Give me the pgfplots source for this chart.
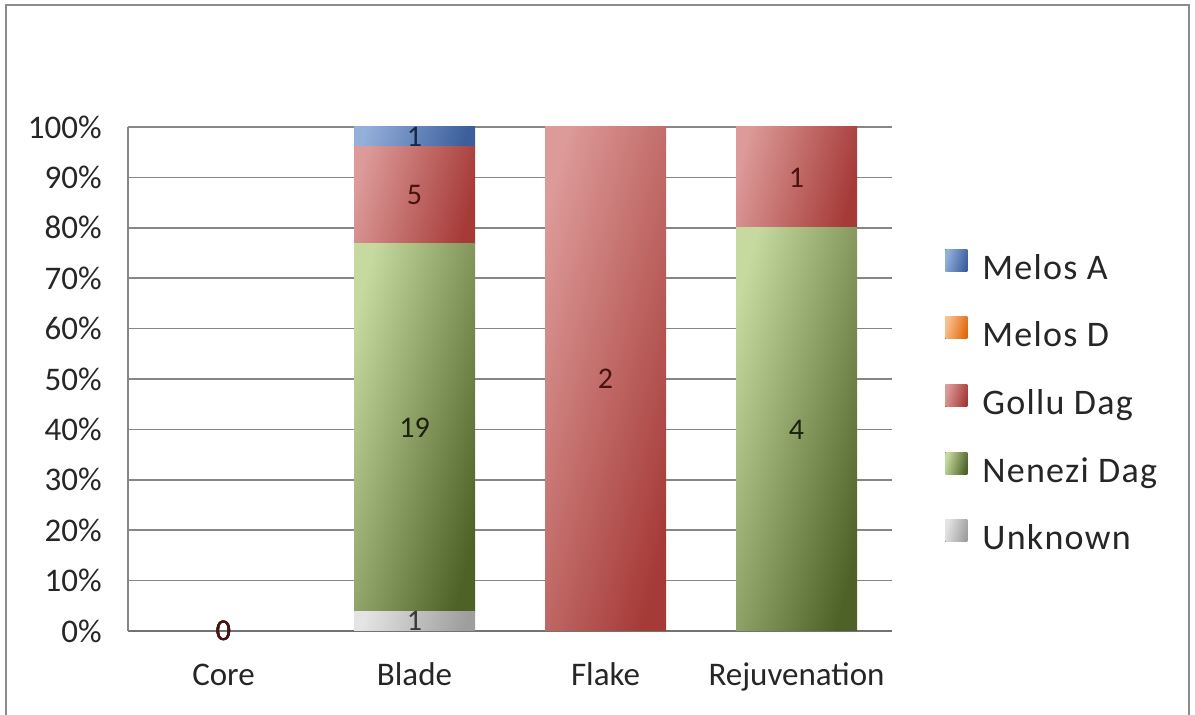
\documentclass[border=0pt]{standalone}
\usepackage{fontspec}
\setmainfont{Carlito}
\newfontfamily\legendfont[LetterSpace=3.5]{Carlito}
\usepackage{pgfplots}
\usepackage{pgfplotstable}
\pgfplotsset{compat=1.18}

\definecolor{gridgray}{HTML}{868686}
\definecolor{framegray}{HTML}{8C8C8C}
\definecolor{txt}{HTML}{262626}
% series colours: light (top left) and dark (bottom right) ends of each gradient
\definecolor{unkL}{HTML}{E4E4E4}\definecolor{unkD}{HTML}{9E9E9E}
\definecolor{nenL}{HTML}{C6D99E}\definecolor{nenD}{HTML}{4E6228}
\definecolor{golL}{HTML}{DC9A98}\definecolor{golD}{HTML}{A53A37}
\definecolor{mdL}{HTML}{FAC090}\definecolor{mdD}{HTML}{E0680A}
\definecolor{maL}{HTML}{93B0DA}\definecolor{maD}{HTML}{3C5F9C}
% label colours
\definecolor{unkT}{HTML}{3A3A3A}
\definecolor{nenT}{HTML}{1C220E}
\definecolor{golT}{HTML}{4A1210}
\definecolor{mdT}{HTML}{5A2A05}
\definecolor{maT}{HTML}{17294A}

% counts of pieces per type and source
\pgfplotstableread{
x unknown nenezi gollu melosD melosA total
0 0 0 0 0 0 0
1 1 19 5 0 1 26
2 0 0 2 0 0 2
3 0 4 1 0 0 5
}\counts

\pgfplotsset{
  panel/.style={
    scale only axis, width=382pt, height=252pt,
    at={(64pt,42pt)}, anchor=south west,
    xmin=-0.5, xmax=3.5, ymin=0, ymax=100,
  },
  % gradient running mostly left to right, a little downwards
  seg/.style 2 args={draw=none, top color=#1, bottom color=#2, shading angle=75},
  lab/.style={only marks, mark=*, mark size=0pt, mark options={draw=none, fill=none},
    every node near coord/.append style={text=#1}},
}

% one stacked column per axis, so that every segment gets its own gradient
\newcommand{\categorybars}[2]{%
\begin{axis}[panel, ybar stacked, bar width=60.5pt, axis lines=none,
  restrict x to domain=#1:#2]
\addplot[seg={unkL}{unkD}] table[x=x, y expr={100*\thisrow{unknown}/max(\thisrow{total},1)}]{\counts};
\addplot[seg={nenL}{nenD}] table[x=x, y expr={100*\thisrow{nenezi}/max(\thisrow{total},1)}]{\counts};
\addplot[seg={golL}{golD}] table[x=x, y expr={100*\thisrow{gollu}/max(\thisrow{total},1)}]{\counts};
\addplot[seg={mdL}{mdD}] table[x=x, y expr={100*\thisrow{melosD}/max(\thisrow{total},1)}]{\counts};
\addplot[seg={maL}{maD}] table[x=x, y expr={100*\thisrow{melosA}/max(\thisrow{total},1)}]{\counts};
\end{axis}}

\begin{document}
\begin{tikzpicture}
\useasboundingbox (0,0) rectangle (597.5pt,357.5pt);
\draw[framegray, line width=1pt] (3pt,-2pt) -- (3pt,355pt) -- (594.5pt,355pt) -- (594.5pt,-2pt);

% frame of the chart: grid, axes, tick labels and legend
\begin{axis}[panel,
  axis x line*=bottom, axis y line*=left,
  x axis line style={-, draw=gridgray!85!black, line width=0.9pt},
  y axis line style={-, draw=gridgray, line width=0.75pt},
  major tick length=0pt,
  xtick={0,1,2,3}, xticklabels={Core,Blade,Flake,Rejuvenation},
  ytick={0,10,...,100},
  yticklabels={0\%,10\%,20\%,30\%,40\%,50\%,60\%,70\%,80\%,90\%,100\%},
  ymajorgrids, grid style={draw=gridgray, line width=0.75pt},
  tick label style={font=\fontsize{16.5}{19}\selectfont, text=txt},
  xticklabel style={anchor=north, inner sep=0pt, text height=12pt, text depth=4pt, yshift=-15.25pt},
  yticklabel style={anchor=east, inner sep=0pt, xshift=-13pt},
  legend style={draw=none, fill=none, at={(1.0694,0.758)}, anchor=north west,
    inner sep=0pt, row sep=14.8pt, column sep=7.5pt,
    font=\legendfont\fontsize{18}{21}\selectfont, text=txt,
    nodes={inner sep=0pt, text height=12pt, text depth=4pt}},
  legend cell align=left,
  legend image code/.code={\fill[#1] (0pt,0pt) rectangle (11pt,11pt);},
]
\addlegendimage{seg={maL}{maD}}\addlegendentry{Melos A}
\addlegendimage{seg={mdL}{mdD}}\addlegendentry{Melos D}
\addlegendimage{seg={golL}{golD}}\addlegendentry{Gollu Dag}
\addlegendimage{seg={nenL}{nenD}}\addlegendentry{Nenezi Dag}
\addlegendimage{seg={unkL}{unkD}}\addlegendentry{Unknown}
\end{axis}

\categorybars{-0.4}{0.4}
\categorybars{0.6}{1.4}
\categorybars{1.6}{2.4}
\categorybars{2.6}{3.4}

% count labels in the middle of each segment
\begin{axis}[panel, axis lines=none, clip=false,
  nodes near coords, point meta=explicit,
  /pgf/number format/assume math mode=true,
  every node near coord/.style={anchor=center, inner sep=0pt, font=\fontsize{15}{18}\selectfont},
  restrict y to domain=-1:101,
]
\addplot[lab=unkT] table[x=x, meta=unknown,
  y expr={(\thisrow{unknown}>0 || \thisrow{total}<1) ? 100*(0.5*\thisrow{unknown})/max(\thisrow{total},1) : -50}]{\counts};
\addplot[lab=nenT] table[x=x, meta=nenezi,
  y expr={(\thisrow{nenezi}>0 || \thisrow{total}<1) ? 100*(\thisrow{unknown}+0.5*\thisrow{nenezi})/max(\thisrow{total},1) : -50}]{\counts};
\addplot[lab=mdT] table[x=x, meta=melosD,
  y expr={(\thisrow{melosD}>0 || \thisrow{total}<1) ? 100*(\thisrow{unknown}+\thisrow{nenezi}+\thisrow{gollu}+0.5*\thisrow{melosD})/max(\thisrow{total},1) : -50}]{\counts};
\addplot[lab=maT] table[x=x, meta=melosA,
  y expr={(\thisrow{melosA}>0 || \thisrow{total}<1) ? 100*(\thisrow{total}-0.5*\thisrow{melosA})/max(\thisrow{total},1) : -50}]{\counts};
\addplot[lab=golT] table[x=x, meta=gollu,
  y expr={(\thisrow{gollu}>0 || \thisrow{total}<1) ? 100*(\thisrow{unknown}+\thisrow{nenezi}+0.5*\thisrow{gollu})/max(\thisrow{total},1) : -50}]{\counts};
\end{axis}
\end{tikzpicture}
\end{document}
